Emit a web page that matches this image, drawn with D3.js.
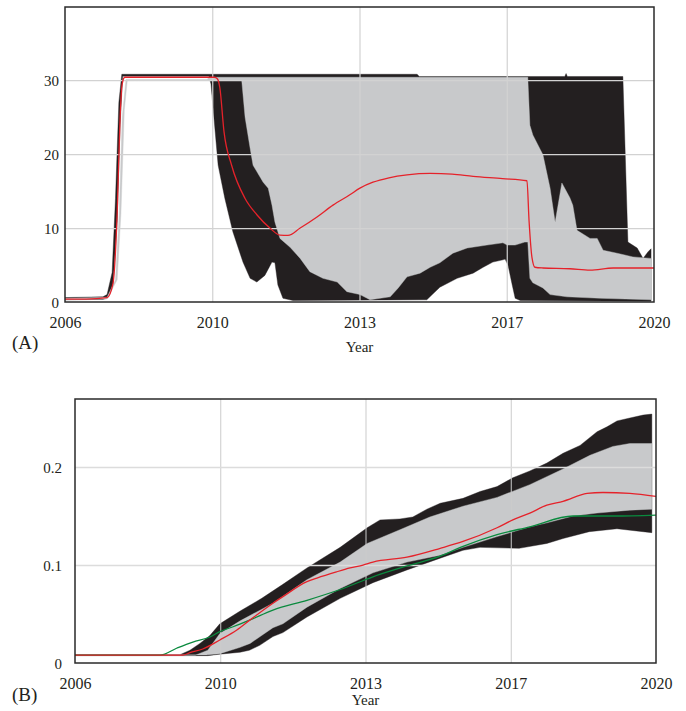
<!DOCTYPE html>
<html><head><meta charset="utf-8">
<script src="https://cdn.jsdelivr.net/npm/d3@7"></script>
<style>body{margin:0;background:#fff}</style>
</head><body>
<svg id="c" width="686" height="711"></svg>
<script>
// ---------- shared axis data ----------
const yearTickVals = [2006, 2009.5, 2013, 2016.5, 2020];
const yearTickLabels = ["2006", "2010", "2013", "2017", "2020"];

// ---------- Panel A ----------
const aYTicks = [0, 10, 20, 30];
const aRedYears = [2006, 2006.5, 2007.0, 2007.14, 2007.24, 2007.31, 2007.36, 2007.42, 2009.55, 2009.62, 2009.68, 2009.78, 2009.96, 2010.28, 2010.56, 2010.87, 2011.11, 2011.3, 2011.59, 2011.99, 2012.37, 2012.77, 2013.01, 2013.32, 2013.7, 2014.13, 2014.68, 2015.2, 2015.7, 2016.4, 2016.98, 2017.03, 2017.1, 2017.17, 2017.36, 2018.0, 2018.48, 2019.03, 2020];
const aRedVals = [0.4, 0.4, 0.6, 2.5, 12, 25, 29.5, 30.4, 30.4, 30.2, 29.0, 23, 18.5, 14.0, 11.8, 10.0, 9.05, 9.0, 10.0, 11.5, 13.1, 14.5, 15.4, 16.2, 16.8, 17.2, 17.4, 17.3, 17.0, 16.7, 16.4, 11, 6, 4.7, 4.6, 4.5, 4.3, 4.6, 4.6];

const aBlackHiYears = [2006, 2006.9, 2007.0, 2007.12, 2007.2, 2007.28, 2007.35, 2014.37, 2014.42, 2017.88, 2017.91, 2017.94, 2019.26, 2019.38, 2019.6, 2019.74, 2019.86, 2019.93];
const aBlackHiVals = [0.6, 0.7, 1.0, 4, 14, 27, 30.8, 30.8, 30.5, 30.5, 30.9, 30.5, 30.5, 8.1, 7.3, 5.9, 6.8, 7.2];
const aBlackLoYears = [2006, 2006.9, 2007.0, 2007.14, 2007.24, 2007.31, 2007.37, 2009.42, 2009.47, 2009.57, 2009.64, 2009.8, 2009.99, 2010.23, 2010.4, 2010.56, 2010.75, 2010.92, 2010.99, 2011.06, 2011.18, 2011.42, 2014.6, 2014.91, 2015.32, 2015.7, 2015.94, 2016.17, 2016.41, 2016.46, 2016.53, 2016.63, 2016.7, 2016.82, 2019.93];
const aBlackLoVals = [0.3, 0.35, 0.5, 2.3, 11, 24, 30.55, 30.55, 29.5, 23, 18.5, 14, 9.5, 5.4, 3.2, 2.7, 3.6, 5.4, 5.3, 2.3, 0.5, 0.2, 0.3, 2.0, 3.2, 3.9, 4.7, 5.4, 5.7, 5.8, 5.0, 2.3, 0.5, 0.2, 0.1];

const aGrayHiYears = [2006, 2007.0, 2007.2, 2007.29, 2007.36, 2007.45, 2009.38, 2009.42, 2017.0, 2017.05, 2017.12, 2017.36, 2017.53, 2017.65, 2017.81, 2018.0, 2018.07, 2018.17, 2018.48, 2018.65, 2018.79, 2019.12, 2019.5, 2019.93];
const aGrayHiVals = [0.5, 0.65, 3, 12, 25, 30.1, 30.1, 30.4, 30.4, 23.9, 22.6, 19.9, 15.4, 10.8, 16.1, 14.1, 13.1, 9.7, 8.6, 8.6, 7.0, 6.6, 6.1, 5.9];
const aGrayLoYears = [2006, 2007.0, 2007.24, 2007.33, 2007.41, 2007.48, 2010.2, 2010.28, 2010.4, 2010.47, 2010.71, 2010.83, 2010.92, 2010.99, 2011.11, 2011.35, 2011.59, 2011.82, 2012.13, 2012.47, 2012.7, 2013.01, 2013.25, 2013.73, 2013.92, 2014.13, 2014.44, 2014.68, 2014.91, 2015.22, 2015.56, 2016.03, 2016.41, 2016.51, 2016.7, 2016.93, 2017.0, 2017.05, 2017.12, 2017.36, 2017.53, 2017.93, 2018.72, 2019.93];
const aGrayLoVals = [0.3, 0.4, 3, 12, 26, 29.95, 30.0, 25, 20.8, 18.5, 16.2, 15.4, 13.1, 10.8, 8.6, 7.4, 5.9, 4.1, 3.2, 2.7, 1.4, 1.0, 0.3, 0.7, 1.9, 3.4, 3.9, 4.7, 5.3, 6.6, 7.3, 7.7, 8.0, 7.7, 7.7, 8.1, 8.1, 3.2, 2.6, 1.9, 1.0, 0.7, 0.5, 0.3];

// ---------- Panel B ----------
const bYTicks = [0, 0.1, 0.2];
const bYTickLabels = ["0", "0.1", "0.2"];
const bRedYears = [2006, 2008.6, 2008.77, 2009.08, 2009.49, 2009.9, 2010.22, 2010.77, 2011.01, 2011.59, 2011.83, 2012.3, 2012.63, 2012.94, 2013.18, 2014.0, 2014.8, 2015.35, 2016.17, 2016.55, 2016.96, 2017.37, 2017.76, 2018.34, 2018.72, 2019.37, 2020];
const bRedVals = [0.008, 0.008, 0.0105, 0.0143, 0.0235, 0.0337, 0.044, 0.061, 0.0677, 0.083, 0.0867, 0.093, 0.097, 0.100, 0.103, 0.108, 0.117, 0.124, 0.138, 0.146, 0.153, 0.161, 0.165, 0.173, 0.174, 0.173, 0.170];
const bGreenYears = [2006, 2008.05, 2008.46, 2008.84, 2009.25, 2009.49, 2009.81, 2010.22, 2010.77, 2011.59, 2012.39, 2013.18, 2014.0, 2014.8, 2015.35, 2016.17, 2016.96, 2018.0, 2019.0, 2020];
const bGreenVals = [0.008, 0.008, 0.0153, 0.0214, 0.0265, 0.032, 0.037, 0.044, 0.054, 0.064, 0.075, 0.088, 0.099, 0.109, 0.119, 0.131, 0.139, 0.150, 0.150, 0.151];

const bBlackHiYears = [2006, 2008.53, 2008.77, 2009.01, 2009.25, 2009.49, 2009.98, 2010.5, 2011.0, 2011.59, 2012.39, 2013.04, 2013.35, 2013.83, 2014.14, 2014.48, 2014.8, 2015.35, 2015.76, 2016.17, 2016.55, 2016.96, 2017.37, 2017.76, 2018.17, 2018.58, 2018.82, 2019.06, 2019.37, 2019.69, 2019.9];
const bBlackHiVals = [0.0085, 0.0085, 0.013, 0.02, 0.028, 0.040, 0.053, 0.066, 0.080, 0.097, 0.118, 0.138, 0.146, 0.147, 0.149, 0.157, 0.163, 0.168, 0.175, 0.180, 0.189, 0.196, 0.204, 0.214, 0.222, 0.236, 0.241, 0.247, 0.250, 0.253, 0.254];
const bBlackLoYears = [2006, 2009.2, 2009.49, 2009.98, 2010.2, 2010.45, 2010.77, 2011.01, 2011.59, 2012.39, 2013.18, 2014.0, 2014.8, 2015.35, 2015.76, 2016.7, 2017.37, 2017.76, 2018.39, 2019.06, 2019.9];
const bBlackLoVals = [0.0075, 0.0075, 0.009, 0.011, 0.013, 0.018, 0.027, 0.031, 0.047, 0.066, 0.082, 0.095, 0.107, 0.115, 0.118, 0.117, 0.122, 0.127, 0.134, 0.137, 0.133];
const bGrayHiYears = [2006, 2008.9, 2009.2, 2009.49, 2009.98, 2010.77, 2011.59, 2012.39, 2013.04, 2013.83, 2014.55, 2015.35, 2016.17, 2016.96, 2017.76, 2018.41, 2018.96, 2019.37, 2019.9];
const bGrayHiVals = [0.008, 0.008, 0.013, 0.030, 0.043, 0.061, 0.085, 0.103, 0.122, 0.136, 0.149, 0.160, 0.169, 0.182, 0.198, 0.212, 0.221, 0.224, 0.224];
const bGrayLoYears = [2006, 2009.2, 2009.49, 2009.98, 2010.22, 2010.77, 2011.01, 2011.59, 2012.39, 2013.18, 2014.0, 2014.8, 2015.35, 2016.17, 2016.96, 2017.37, 2018.0, 2018.58, 2019.37, 2019.9];
const bGrayLoVals = [0.008, 0.0085, 0.0095, 0.016, 0.020, 0.036, 0.040, 0.057, 0.076, 0.092, 0.103, 0.110, 0.118, 0.129, 0.139, 0.143, 0.150, 0.153, 0.156, 0.157];

// ---------- drawing ----------
const BLACK = "#231f20", GRAY = "#c8c9cb", RED = "#e5222a", GREEN = "#0a8a3e";
const FONT = "'Liberation Serif','Times New Roman',serif";
const svg = d3.select("#c");
const zip = (ys, vs) => ys.map((t, i) => [t, vs[i]]);

function panel(cfg) {
  const x = d3.scaleLinear().domain([2006, 2020]).range([cfg.x0, cfg.x1]);
  const y = d3.scaleLinear().domain([0, cfg.ymax]).range([cfg.y1, cfg.y0]);
  const line = d3.line().x(d => x(d[0])).y(d => y(d[1]));
  const smooth = d3.line().x(d => x(d[0])).y(d => y(d[1])).curve(d3.curveMonotoneX);
  const g = svg.append("g");
  svg.append("clipPath").attr("id", cfg.id).append("rect")
    .attr("x", cfg.x0).attr("y", cfg.y0).attr("width", cfg.x1 - cfg.x0).attr("height", cfg.y1 - cfg.y0);
  const plot = g.append("g").attr("clip-path", `url(#${cfg.id})`);
  cfg.bands.forEach(b => {
    const pts = zip(b.hiY, b.hiV).concat(zip(b.loY, b.loV).reverse());
    plot.append("path").attr("d", line(pts) + "Z").attr("fill", b.color).attr("stroke", b.color).attr("stroke-width", 0.4);
  });
  // grid
  const gx = plot.append("g").attr("transform", `translate(0,${cfg.y1})`)
    .call(d3.axisBottom(x).tickValues(yearTickVals.slice(1, -1)).tickSize(-(cfg.y1 - cfg.y0)).tickFormat(""));
  gx.select(".domain").remove();
  gx.selectAll("line").attr("stroke", cfg.vGrid).attr("stroke-width", cfg.vGridW);
  const gy = plot.append("g").attr("transform", `translate(${cfg.x0},0)`)
    .call(d3.axisLeft(y).tickValues(cfg.yTicks.slice(1)).tickSize(-(cfg.x1 - cfg.x0)).tickFormat(""));
  gy.select(".domain").remove();
  gy.selectAll("line").attr("stroke", cfg.hGrid).attr("stroke-width", cfg.hGridW);
  // lines
  cfg.lines.forEach(l => {
    plot.append("path").attr("d", smooth(zip(l.years, l.vals))).attr("fill", "none")
      .attr("stroke", l.color).attr("stroke-width", 1.3).attr("stroke-linejoin", "round");
  });
  // frame
  g.append("rect").attr("x", cfg.x0).attr("y", cfg.y0).attr("width", cfg.x1 - cfg.x0).attr("height", cfg.y1 - cfg.y0)
    .attr("fill", "none").attr("stroke", "#2a2a2a").attr("stroke-width", 1.5);
  // axes labels
  const ax = g.append("g").attr("transform", `translate(0,${cfg.y1})`)
    .call(d3.axisBottom(x).tickValues(yearTickVals).tickSize(0).tickFormat((d, i) => yearTickLabels[i]));
  ax.select(".domain").remove();
  ax.selectAll("text").attr("y", cfg.xLabelOff).attr("dy", null)
    .attr("font-family", FONT).attr("font-size", 16).attr("fill", BLACK);
  const ay = g.append("g").attr("transform", `translate(${cfg.x0},0)`)
    .call(d3.axisLeft(y).tickValues(cfg.yTicks).tickSize(0).tickPadding(cfg.yPad).tickFormat((d, i) => cfg.yLabels[i]));
  ay.select(".domain").remove();
  ay.selectAll("text").attr("font-family", FONT).attr("font-size", 15).attr("fill", BLACK).attr("dy", "0.34em");
  g.append("text").attr("x", 12).attr("y", cfg.tagY).text(cfg.tag)
    .attr("font-family", FONT).attr("font-size", 19).attr("fill", BLACK);
  g.append("text").attr("x", (cfg.x0 + cfg.x1) / 2).attr("y", cfg.titleY).attr("text-anchor", "middle").text("Year")
    .attr("font-family", FONT).attr("font-size", 15).attr("fill", BLACK);
}

panel({
  id: "clipA", x0: 65, x1: 654, y0: 7, y1: 302, ymax: 39.9,
  yTicks: aYTicks, yLabels: aYTicks.map(String), yPad: 6,
  xLabelOff: 26, tag: "(A)", tagY: 349, titleY: 352,
  vGrid: "#d2d2d2", vGridW: 1.2, hGrid: "#d2d2d2", hGridW: 1.2,
  bands: [
    { hiY: aBlackHiYears, hiV: aBlackHiVals, loY: aBlackLoYears, loV: aBlackLoVals, color: BLACK },
    { hiY: aGrayHiYears, hiV: aGrayHiVals, loY: aGrayLoYears, loV: aGrayLoVals, color: GRAY }
  ],
  lines: [{ years: aRedYears, vals: aRedVals, color: RED }]
});

panel({
  id: "clipB", x0: 75, x1: 656, y0: 399, y1: 663, ymax: 0.2694,
  yTicks: bYTicks, yLabels: bYTickLabels, yPad: 13,
  xLabelOff: 26, tag: "(B)", tagY: 701, titleY: 705,
  vGrid: "#cbcbcb", vGridW: 1, hGrid: "#dcdcdc", hGridW: 1.6,
  bands: [
    { hiY: bBlackHiYears, hiV: bBlackHiVals, loY: bBlackLoYears, loV: bBlackLoVals, color: BLACK },
    { hiY: bGrayHiYears, hiV: bGrayHiVals, loY: bGrayLoYears, loV: bGrayLoVals, color: GRAY }
  ],
  lines: [
    { years: bGreenYears, vals: bGreenVals, color: GREEN },
    { years: bRedYears, vals: bRedVals, color: RED }
  ]
});
</script>
</body></html>
